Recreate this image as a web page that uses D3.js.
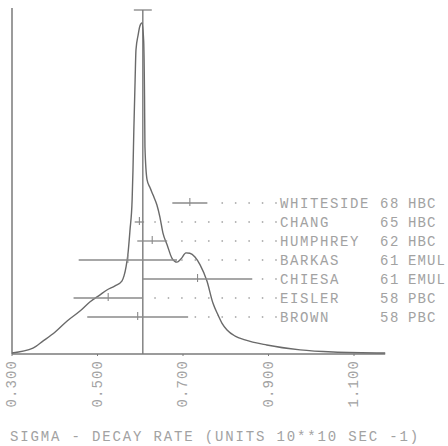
<!DOCTYPE html>
<html>
<head>
<meta charset="utf-8">
<script src="https://cdn.jsdelivr.net/npm/d3@7"></script>
<style>
  html, body { margin: 0; padding: 0; background: #fff; }
  text { font-family: 'Liberation Mono', 'DejaVu Sans Mono', monospace; fill: #a2a2a2; }
</style>
</head>
<body>
<div id="chart"></div>
<script>
// ideogram curve: [sigma decay rate, relative height]
const curve = [
  [0.300, 0.3], [0.349, 1.7], [0.373, 3.8], [0.401, 6.4], [0.429, 9.6], [0.459, 12.5],
  [0.482, 15.1], [0.506, 17.2], [0.522, 18.6], [0.541, 19.8], [0.557, 21.2], [0.562, 22.7],
  [0.567, 25.5], [0.571, 28.8], [0.576, 36.0], [0.581, 44.8], [0.583, 53.5], [0.585, 65.1],
  [0.588, 79.7], [0.590, 88.4], [0.595, 92.7], [0.599, 95.3], [0.604, 96.2], [0.608, 91.0],
  [0.610, 75.0], [0.611, 60.2], [0.616, 50.6], [0.623, 48.3], [0.630, 46.2], [0.639, 43.3],
  [0.646, 39.8], [0.653, 35.2], [0.663, 31.7], [0.674, 27.9], [0.686, 26.7], [0.695, 27.6],
  [0.707, 29.4], [0.716, 29.3], [0.728, 28.2], [0.740, 25.9], [0.756, 21.2], [0.770, 14.8],
  [0.782, 11.3], [0.791, 9.0], [0.803, 7.0], [0.822, 5.2], [0.845, 4.1], [0.896, 2.6],
  [0.974, 1.2], [1.051, 0.6], [1.173, 0.3]
]

// experiments
const names = ['WHITESIDE', 'CHANG', 'HUMPHREY', 'BARKAS', 'CHIESA', 'EISLER', 'BROWN']
const years = ['68', '65', '62', '61', '61', '58', '58']
const labs = ['HBC', 'HBC', 'HBC', 'EMUL', 'EMUL', 'PBC', 'PBC']
const values = [0.716, 0.598, 0.628, 0.571, 0.734, 0.525, 0.594]
const errors = [0.041, 0.011, 0.035, 0.115, 0.128, 0.081, 0.118]

// weighted mean line
const mean = 0.606
const meanErr = 0.021

const xTicks = [0.3, 0.5, 0.7, 0.9, 1.1]
const xTitle = 'SIGMA - DECAY RATE (UNITS 10**10 SEC -1)'

const width = 448
const height = 446
const x = d3.scaleLinear().domain([0.3, 1.1]).range([12, 354])
const y = d3.scaleLinear().domain([0, 100]).range([354, 10])
const row = d3.scalePoint().domain(names).range([203, 317])
const xMax = 1.173

const svg = d3.select('#chart').append('svg')
  .attr('width', width)
  .attr('height', height)

const ink = '#7a7a7a'

// axes
svg.append('line')
  .attr('x1', x(0.3)).attr('x2', x(0.3))
  .attr('y1', 8).attr('y2', y(0))
  .attr('stroke', ink).attr('stroke-width', 1.5)
svg.append('line')
  .attr('x1', x(0.3)).attr('x2', x(xMax))
  .attr('y1', y(0)).attr('y2', y(0))
  .attr('stroke', ink).attr('stroke-width', 1.5)

svg.append('g')
  .selectAll('line')
  .data(xTicks)
  .enter().append('line')
  .attr('x1', d => x(d)).attr('x2', d => x(d))
  .attr('y1', y(0)).attr('y2', y(0) + 2)
  .attr('stroke', ink)

svg.append('g')
  .selectAll('text')
  .data(xTicks)
  .enter().append('text')
  .attr('transform', d => `translate(${x(d)},360) rotate(-90)`)
  .attr('text-anchor', 'end')
  .attr('dy', '0.32em')
  .attr('font-size', 14)
  .attr('letter-spacing', 1.1)
  .text(d => d.toFixed(3))

svg.append('text')
  .attr('x', 10)
  .attr('y', 441)
  .attr('font-size', 14)
  .attr('letter-spacing', 1.85)
  .style('white-space', 'pre')
  .text(xTitle)

// mean line with cap
svg.append('line')
  .attr('x1', x(mean)).attr('x2', x(mean))
  .attr('y1', 10).attr('y2', y(0))
  .attr('stroke', ink).attr('stroke-width', 1.4)
svg.append('line')
  .attr('x1', x(mean - meanErr)).attr('x2', x(mean + meanErr))
  .attr('y1', 10).attr('y2', 10)
  .attr('stroke', ink).attr('stroke-width', 1.2)

// ideogram
const line = d3.line()
  .x(d => x(d[0]))
  .y(d => y(d[1]))
  .curve(d3.curveMonotoneX)
svg.append('path')
  .datum(curve)
  .attr('fill', 'none')
  .attr('stroke', '#6a6a6a')
  .attr('stroke-width', 1.4)
  .attr('d', line)

// experiments: error bars, leaders and labels
const exps = names.map((n, i) => ({ name: n, year: years[i], lab: labs[i], v: values[i], e: errors[i] }))
const g = svg.append('g')
const labelX = 280
const dotStep = 13.44

exps.forEach(d => {
  const yy = row(d.name)
  const x0 = x(d.v - d.e)
  const x1 = x(d.v + d.e)
  g.append('line')
    .attr('x1', x0).attr('x2', x1)
    .attr('y1', yy).attr('y2', yy)
    .attr('stroke', '#8a8a8a').attr('stroke-width', 1.3)
  g.append('line')
    .attr('x1', x(d.v)).attr('x2', x(d.v))
    .attr('y1', yy - 5).attr('y2', yy + 3)
    .attr('stroke', '#8a8a8a').attr('stroke-width', 1.1)
  const dots = []
  for (let k = 0; labelX - 4 - k * dotStep > x1 + 3; k++) dots.push(labelX - 4 - k * dotStep)
  g.selectAll(null)
    .data(dots)
    .enter().append('circle')
    .attr('cx', c => c).attr('cy', yy)
    .attr('r', 0.9)
    .attr('fill', '#b0b0b0')
  g.append('text').attr('x', labelX).attr('y', yy + 4.5)
    .attr('font-size', 14).attr('letter-spacing', 1.6).text(d.name)
  g.append('text').attr('x', 380).attr('y', yy + 4.5)
    .attr('font-size', 14).attr('letter-spacing', 1.6).text(d.year)
  g.append('text').attr('x', 408).attr('y', yy + 4.5)
    .attr('font-size', 14).attr('letter-spacing', 1.1).text(d.lab)
})
</script>
</body>
</html>
